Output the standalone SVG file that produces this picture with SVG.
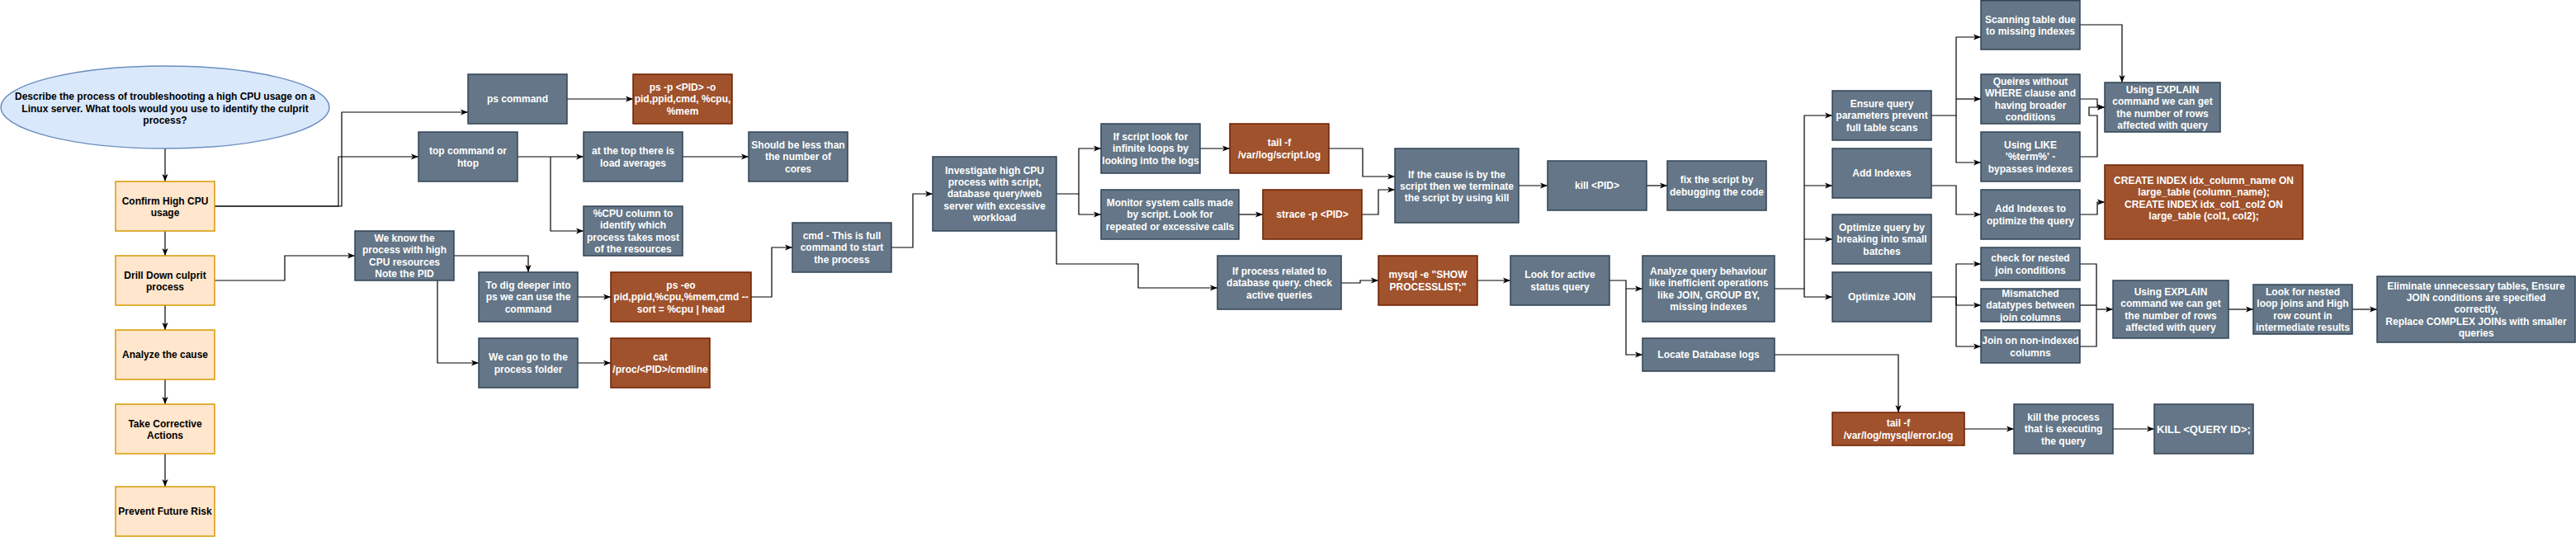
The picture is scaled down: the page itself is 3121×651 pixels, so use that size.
<svg xmlns="http://www.w3.org/2000/svg" width="3121" height="651" viewBox="0 0 3121 651">
<style>
.g{fill:#647687;stroke:#314354;stroke-width:1.5}
.b{fill:#a0522d;stroke:#6d1f00;stroke-width:1.5}
.o{fill:#ffe6cc;stroke:#d79b00;stroke-width:1.5}
.e{fill:#dae8fc;stroke:#6c8ebf;stroke-width:1.5}
text{font-family:"Liberation Sans",Arial,sans-serif;font-size:12px;font-weight:bold;text-anchor:middle}
.t{fill:#ffffff}
.k{fill:#000000}
.c path{fill:none;stroke:#000000;stroke-width:1.2;marker-end:url(#arr)}
.c path.n{marker-end:none}
</style>
<defs>
<marker id="arr" viewBox="0 0 10 10" markerWidth="9" markerHeight="9" refX="10" refY="5" orient="auto" markerUnits="userSpaceOnUse">
<path d="M0,1 L10,5 L0,9 L2.5,5 z" fill="#000000"/>
</marker>
</defs>
<rect width="3121" height="651" fill="#ffffff"/>

<g id="connectors" class="c">
<path d="M200,180 V220"/>
<path d="M200,280 V310"/>
<path d="M200,370 V400"/>
<path d="M200,460 V490"/>
<path d="M200,550 V590"/>
<path d="M260,250 H414 V136 H567"/>
<path d="M260,250 H410 V190 H507"/>
<path d="M687,120 H767"/>
<path d="M627,190 H707"/>
<path d="M667,190 V280 H707"/>
<path d="M827,190 H907"/>
<path d="M260,340 H345 V310 H430"/>
<path d="M550,310 H640 V330"/>
<path d="M700,360 H740"/>
<path d="M530,340 V440 H580"/>
<path d="M700,440 H740"/>
<path d="M910,360 H935 V300 H960"/>
<path d="M1080,300 H1106 V235 H1130"/>
<path d="M1280,235 H1307 V180 H1334"/>
<path d="M1307,235 V260 H1334"/>
<path d="M1454,180 H1490"/>
<path d="M1501,260 H1530"/>
<path d="M1610,180 H1651 V214 H1690"/>
<path d="M1650,260 H1670 V230 H1690"/>
<path d="M1280,280 V320 H1379 V349 H1475"/>
<path d="M1840,225 H1875"/>
<path d="M1995,225 H2020"/>
<path d="M1625,343 H1648 V340 H1670"/>
<path d="M1790,340 H1830"/>
<path d="M1950,340 H1970 V350 H1990"/>
<path d="M1970,350 V430 H1990"/>
<path d="M2150,350 H2186 V140 H2220"/>
<path d="M2186,225 H2220"/>
<path d="M2186,290 H2220"/>
<path d="M2186,350 V360 H2220"/>
<path d="M2340,140 H2370 V45 H2400"/>
<path d="M2370,120 H2400"/>
<path d="M2370,140 V197 H2400"/>
<path d="M2340,225 H2370 V260 H2400"/>
<path d="M2520,30 H2571 V100"/>
<path d="M2520,120 H2541 V130 H2550"/>
<path d="M2520,190 H2541 V140 H2531 V130 H2550"/>
<path d="M2520,260 H2541 V245 H2550"/>
<path d="M2340,360 H2370 V320 H2400"/>
<path d="M2370,360 V370 H2400"/>
<path d="M2370,360 V420 H2400"/>
<path class="n" d="M2520,320 H2540 V420 H2520"/>
<path class="n" d="M2520,370 H2540"/>
<path d="M2540,375 H2560"/>
<path d="M2700,375 H2730"/>
<path d="M2850,375 H2880"/>
<path d="M2150,430 H2300 V500"/>
<path d="M2380,520 H2440"/>
<path d="M2560,520 H2610"/>
</g>

<g id="n_question"><ellipse class="e" cx="200" cy="130" rx="199" ry="50"/><text class="k" x="200" y="121.4">Describe the process of troubleshooting a high CPU usage on a<tspan x="200" dy="14.4">Linux server. What tools would you use to identify the culprit</tspan><tspan x="200" dy="14.4">process?</tspan></text></g>
<g id="n_confirm"><rect class="o" x="140" y="220" width="120" height="60"/><text class="k" x="200" y="247.5">Confirm High CPU<tspan x="200" dy="14.4">usage</tspan></text></g>
<g id="n_drill"><rect class="o" x="140" y="310" width="120" height="60"/><text class="k" x="200" y="337.5">Drill Down culprit<tspan x="200" dy="14.4">process</tspan></text></g>
<g id="n_analyze"><rect class="o" x="140" y="400" width="120" height="60"/><text class="k" x="200" y="434.3">Analyze the cause</text></g>
<g id="n_take"><rect class="o" x="140" y="490" width="120" height="60"/><text class="k" x="200" y="517.5">Take Corrective<tspan x="200" dy="14.4">Actions</tspan></text></g>
<g id="n_prevent"><rect class="o" x="140" y="590" width="120" height="60"/><text class="k" x="200" y="624.3">Prevent Future Risk</text></g>

<g id="n_ps"><rect class="g" x="567" y="90" width="120" height="60"/><text class="t" x="627" y="124.3">ps command</text></g>
<g id="n_psp"><rect class="b" x="767" y="90" width="120" height="60"/><text class="t" x="827" y="109.9">ps -p &lt;PID&gt; -o<tspan x="827" dy="14.4">pid,ppid,cmd, %cpu,</tspan><tspan x="827" dy="14.4">%mem</tspan></text></g>
<g id="n_top"><rect class="g" x="507" y="160" width="120" height="60"/><text class="t" x="567" y="187.1">top command or<tspan x="567" dy="14.4">htop</tspan></text></g>
<g id="n_load"><rect class="g" x="707" y="160" width="120" height="60"/><text class="t" x="767" y="187.1">at the top there is<tspan x="767" dy="14.4">load averages</tspan></text></g>
<g id="n_cores"><rect class="g" x="907" y="160" width="120" height="60"/><text class="t" x="967" y="179.9">Should be less than<tspan x="967" dy="14.4">the number of</tspan><tspan x="967" dy="14.4">cores</tspan></text></g>
<g id="n_cpucol"><rect class="g" x="707" y="250" width="120" height="60"/><text class="t" x="767" y="262.7">%CPU column to<tspan x="767" dy="14.4">identify which</tspan><tspan x="767" dy="14.4">process takes most</tspan><tspan x="767" dy="14.4">of the resources</tspan></text></g>
<g id="n_know"><rect class="g" x="430" y="280" width="120" height="60"/><text class="t" x="490" y="292.7">We know the<tspan x="490" dy="14.4">process with high</tspan><tspan x="490" dy="14.4">CPU resources</tspan><tspan x="490" dy="14.4">Note  the PID</tspan></text></g>
<g id="n_dig"><rect class="g" x="580" y="330" width="120" height="60"/><text class="t" x="640" y="349.9">To dig deeper into<tspan x="640" dy="14.4">ps we can use the</tspan><tspan x="640" dy="14.4">command</tspan></text></g>
<g id="n_pseo"><rect class="b" x="740" y="330" width="170" height="60"/><text class="t" x="825" y="349.9">ps -eo<tspan x="825" dy="14.4">pid,ppid,%cpu,%mem,cmd --</tspan><tspan x="825" dy="14.4">sort = %cpu | head</tspan></text></g>
<g id="n_folder"><rect class="g" x="580" y="410" width="120" height="60"/><text class="t" x="640" y="437.1">We can go to the<tspan x="640" dy="14.4">process folder</tspan></text></g>
<g id="n_cat"><rect class="b" x="740" y="410" width="120" height="60"/><text class="t" x="800" y="437.1">cat<tspan x="800" dy="14.4">/proc/&lt;PID&gt;/cmdline</tspan></text></g>
<g id="n_cmd"><rect class="g" x="960" y="270" width="120" height="60"/><text class="t" x="1020" y="289.9">cmd - This is full<tspan x="1020" dy="14.4">command to start</tspan><tspan x="1020" dy="14.4">the process</tspan></text></g>
<g id="n_invest"><rect class="g" x="1130" y="190" width="150" height="90"/><text class="t" x="1205" y="210.5">Investigate high CPU<tspan x="1205" dy="14.4">process with script,</tspan><tspan x="1205" dy="14.4">database query/web</tspan><tspan x="1205" dy="14.4">server with excessive</tspan><tspan x="1205" dy="14.4">workload</tspan></text></g>

<g id="n_loops"><rect class="g" x="1334" y="150" width="120" height="60"/><text class="t" x="1394" y="169.9">If script look for<tspan x="1394" dy="14.4">infinite loops by</tspan><tspan x="1394" dy="14.4">looking into the logs</tspan></text></g>
<g id="n_taillog"><rect class="b" x="1490" y="150" width="120" height="60"/><text class="t" x="1550" y="177.1">tail -f<tspan x="1550" dy="14.4">/var/log/script.log</tspan></text></g>
<g id="n_monitor"><rect class="g" x="1334" y="230" width="167" height="60"/><text class="t" x="1417.5" y="249.9">Monitor system calls made<tspan x="1417.5" dy="14.4">by script. Look for</tspan><tspan x="1417.5" dy="14.4">repeated or excessive calls</tspan></text></g>
<g id="n_strace"><rect class="b" x="1530" y="230" width="120" height="60"/><text class="t" x="1590" y="264.3">strace -p &lt;PID&gt;</text></g>
<g id="n_cause"><rect class="g" x="1690" y="180" width="150" height="90"/><text class="t" x="1765" y="215.5">If the cause is  by the<tspan x="1765" dy="14.4">script then we terminate</tspan><tspan x="1765" dy="14.4">the script by using kill</tspan></text></g>
<g id="n_kill"><rect class="g" x="1875" y="195" width="120" height="60"/><text class="t" x="1935" y="229.3">kill &lt;PID&gt;</text></g>
<g id="n_fix"><rect class="g" x="2020" y="195" width="120" height="60"/><text class="t" x="2080" y="222.1">fix the script by<tspan x="2080" dy="14.4">debugging the code</tspan></text></g>
<g id="n_dbq"><rect class="g" x="1475" y="310" width="150" height="65"/><text class="t" x="1550" y="333">If process related to<tspan x="1550" dy="14.4">database query. check</tspan><tspan x="1550" dy="14.4">active queries</tspan></text></g>
<g id="n_mysql"><rect class="b" x="1670" y="310" width="120" height="60"/><text class="t" x="1730" y="337.1">mysql -e "SHOW<tspan x="1730" dy="14.4">PROCESSLIST;"</tspan></text></g>
<g id="n_active"><rect class="g" x="1830" y="310" width="120" height="60"/><text class="t" x="1890" y="337.1">Look for active<tspan x="1890" dy="14.4">status query</tspan></text></g>
<g id="n_behav"><rect class="g" x="1990" y="310" width="160" height="80"/><text class="t" x="2070" y="332.7">Analyze query behaviour<tspan x="2070" dy="14.4">like inefficient operations</tspan><tspan x="2070" dy="14.4">like JOIN, GROUP BY,</tspan><tspan x="2070" dy="14.4">missing indexes</tspan></text></g>
<g id="n_locate"><rect class="g" x="1990" y="410" width="160" height="40"/><text class="t" x="2070" y="434.3">Locate Database logs</text></g>

<g id="n_ensure"><rect class="g" x="2220" y="110" width="120" height="60"/><text class="t" x="2280" y="129.9">Ensure query<tspan x="2280" dy="14.4">parameters prevent</tspan><tspan x="2280" dy="14.4">full table scans</tspan></text></g>
<g id="n_addidx"><rect class="g" x="2220" y="180" width="120" height="60"/><text class="t" x="2280" y="214.3">Add Indexes</text></g>
<g id="n_batch"><rect class="g" x="2220" y="260" width="120" height="60"/><text class="t" x="2280" y="279.9">Optimize query by<tspan x="2280" dy="14.4">breaking into small</tspan><tspan x="2280" dy="14.4">batches</tspan></text></g>
<g id="n_join"><rect class="g" x="2220" y="330" width="120" height="60"/><text class="t" x="2280" y="364.3">Optimize JOIN</text></g>
<g id="n_scan"><rect class="g" x="2400" y="0.75" width="120" height="59.25"/><text class="t" x="2460" y="28">Scanning table due<tspan x="2460" dy="14.4">to missing indexes</tspan></text></g>
<g id="n_where"><rect class="g" x="2400" y="90" width="120" height="60"/><text class="t" x="2460" y="102.7">Queires without<tspan x="2460" dy="14.4">WHERE clause and</tspan><tspan x="2460" dy="14.4">having broader</tspan><tspan x="2460" dy="14.4">conditions</tspan></text></g>
<g id="n_like"><rect class="g" x="2400" y="160" width="120" height="60"/><text class="t" x="2460" y="179.9">Using LIKE<tspan x="2460" dy="14.4">'%term%' -</tspan><tspan x="2460" dy="14.4">bypasses indexes</tspan></text></g>
<g id="n_addopt"><rect class="g" x="2400" y="230" width="120" height="60"/><text class="t" x="2460" y="257.1">Add Indexes to<tspan x="2460" dy="14.4">optimize the query</tspan></text></g>
<g id="n_explain1"><rect class="g" x="2550" y="100" width="140" height="60"/><text class="t" x="2620" y="112.7">Using EXPLAIN<tspan x="2620" dy="14.4">command we can get</tspan><tspan x="2620" dy="14.4">the number of rows</tspan><tspan x="2620" dy="14.4">affected with query</tspan></text></g>
<g id="n_create"><rect class="b" x="2550" y="200" width="240" height="90"/><text class="t" x="2670" y="223">CREATE INDEX idx_column_name ON<tspan x="2670" dy="14.4">large_table (column_name);</tspan><tspan x="2670" dy="14.4">CREATE INDEX idx_col1_col2 ON</tspan><tspan x="2670" dy="14.4">large_table (col1, col2);</tspan></text></g>
<g id="n_nested"><rect class="g" x="2400" y="300" width="120" height="40"/><text class="t" x="2460" y="317.1">check for nested<tspan x="2460" dy="14.4">join conditions</tspan></text></g>
<g id="n_mismatch"><rect class="g" x="2400" y="350" width="120" height="40"/><text class="t" x="2460" y="359.9">Mismatched<tspan x="2460" dy="14.4">datatypes between</tspan><tspan x="2460" dy="14.4">join columns</tspan></text></g>
<g id="n_nonidx"><rect class="g" x="2400" y="400" width="120" height="40"/><text class="t" x="2460" y="417.1">Join on non-indexed<tspan x="2460" dy="14.4">columns</tspan></text></g>
<g id="n_explain2"><rect class="g" x="2560" y="340" width="140" height="70"/><text class="t" x="2630" y="357.7">Using EXPLAIN<tspan x="2630" dy="14.4">command we can get</tspan><tspan x="2630" dy="14.4">the number of rows</tspan><tspan x="2630" dy="14.4">affected with query</tspan></text></g>
<g id="n_loopjoin"><rect class="g" x="2730" y="345" width="120" height="60"/><text class="t" x="2790" y="357.7">Look for nested<tspan x="2790" dy="14.4">loop joins and High</tspan><tspan x="2790" dy="14.4">row count in</tspan><tspan x="2790" dy="14.4">intermediate results</tspan></text></g>
<g id="n_elim"><rect class="g" x="2880" y="335" width="240" height="80"/><text class="t" x="3000" y="350.5">Eliminate unnecessary tables, Ensure<tspan x="3000" dy="14.4">JOIN conditions are specified</tspan><tspan x="3000" dy="14.4">correctly,</tspan><tspan x="3000" dy="14.4">Replace COMPLEX JOINs with smaller</tspan><tspan x="3000" dy="14.4">queries</tspan></text></g>
<g id="n_errlog"><rect class="b" x="2220" y="500" width="160" height="40"/><text class="t" x="2300" y="517.1">tail -f<tspan x="2300" dy="14.4">/var/log/mysql/error.log</tspan></text></g>
<g id="n_killproc"><rect class="g" x="2440" y="490" width="120" height="60"/><text class="t" x="2500" y="509.9">kill the process<tspan x="2500" dy="14.4">that is executing</tspan><tspan x="2500" dy="14.4">the query</tspan></text></g>
<g id="n_killq"><rect class="g" x="2610" y="490" width="120" height="60"/><text class="t" x="2613" y="524.5" style="text-anchor:start;font-size:13px">KILL &lt;QUERY ID&gt;;</text></g>
</svg>
